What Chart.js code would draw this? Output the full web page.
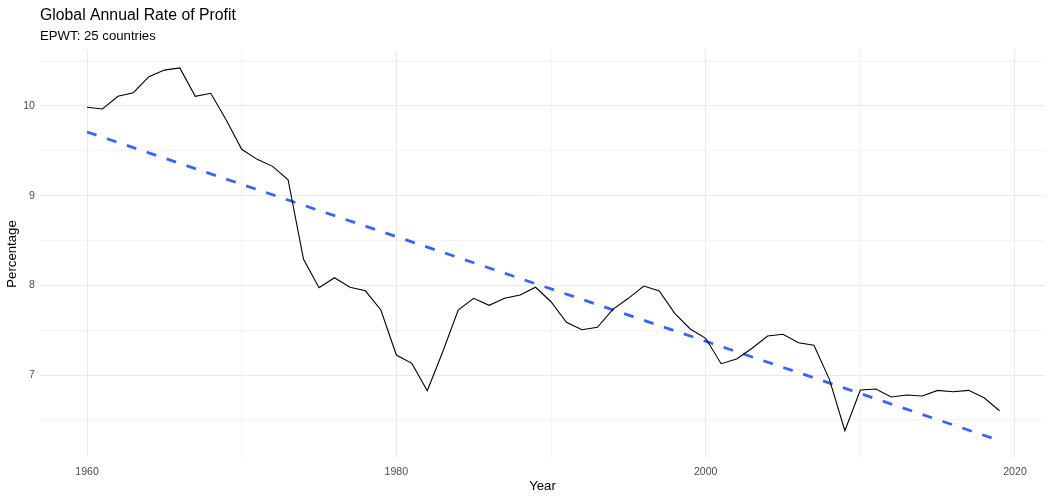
<!DOCTYPE html>
<html>
<head>
<meta charset="utf-8">
<script src="https://cdn.jsdelivr.net/npm/chart.js@4"></script>
<style>
  html, body { margin: 0; padding: 0; background: #ffffff; }
  #wrap { position: relative; width: 1051px; height: 500px; }
</style>
</head>
<body>
<div id="wrap"><canvas id="c" width="1051" height="500"></canvas></div>
<script>
const years = [1960,1961,1962,1963,1964,1965,1966,1967,1968,1969,
               1970,1971,1972,1973,1974,1975,1976,1977,1978,1979,
               1980,1981,1982,1983,1984,1985,1986,1987,1988,1989,
               1990,1991,1992,1993,1994,1995,1996,1997,1998,1999,
               2000,2001,2002,2003,2004,2005,2006,2007,2008,2009,
               2010,2011,2012,2013,2014,2015,2016,2017,2018,2019];
const profitRate = [9.985,9.967,10.108,10.148,10.327,10.400,10.424,10.108,10.141,9.844,
                    9.517,9.405,9.327,9.178,8.290,7.975,8.086,7.979,7.940,7.726,
                    7.224,7.131,6.826,7.261,7.726,7.856,7.778,7.856,7.893,7.979,
                    7.818,7.589,7.506,7.533,7.733,7.856,7.993,7.938,7.689,7.514,
                    7.410,7.127,7.180,7.299,7.436,7.455,7.361,7.332,6.953,6.380,
                    6.834,6.845,6.756,6.778,6.767,6.830,6.815,6.830,6.748,6.603];
const trendYears = [1960, 2019];
const trendValues = [9.71, 6.27];
const xGridValues = [1960,1970,1980,1990,2000,2010,2020];
const xTickLabels = ['1960','1980','2000','2020'];
const yGridValues = [6.5,7,7.5,8,8.5,9,9.5,10,10.5];
const yTickLabels = ['7','8','9','10'];

const FONT = '"Liberation Sans", Arial, Helvetica, sans-serif';

const seriesData = years.map((y, i) => ({x: y, y: profitRate[i]}));
const trendData = trendYears.map((y, i) => ({x: y, y: trendValues[i]}));

new Chart(document.getElementById('c'), {
  type: 'line',
  data: {
    datasets: [
      {
        data: seriesData,
        borderColor: '#000000',
        borderWidth: 1.1,
        pointRadius: 0,
        tension: 0,
        fill: false
      },
      {
        data: trendData,
        borderColor: '#3366FF',
        borderWidth: 2.8,
        borderDash: [10, 11],
        borderCapStyle: 'butt',
        pointRadius: 0,
        tension: 0,
        fill: false
      }
    ]
  },
  options: {
    responsive: false,
    animation: false,
    events: [],
    layout: { padding: { top: 0, right: 6, bottom: 0, left: 0 } },
    plugins: {
      legend: { display: false },
      tooltip: { enabled: false },
      title: {
        display: true,
        text: 'Global Annual Rate of Profit',
        align: 'start',
        fullSize: false,
        color: '#000000',
        font: { family: FONT, size: 15.8, weight: 'normal' },
        padding: { top: 6.5, bottom: 1.5 }
      },
      subtitle: {
        display: true,
        text: 'EPWT: 25 countries',
        align: 'start',
        fullSize: false,
        color: '#000000',
        font: { family: FONT, size: 13.2, weight: 'normal' },
        padding: { top: 1.3, bottom: 5.9 }
      }
    },
    scales: {
      x: {
        type: 'linear',
        min: 1956.96,
        max: 2021.94,
        afterFit: (s) => { s.height = 42; },
        afterBuildTicks: (s) => { s.ticks = xGridValues.map(v => ({value: v})); },
        border: { display: false },
        grid: {
          drawTicks: false,
          color: (ctx) => (ctx.tick && xTickLabels.includes(String(ctx.tick.value))) ? '#EBEBEB' : '#F3F3F3',
          lineWidth: 1
        },
        ticks: {
          autoSkip: false,
          maxRotation: 0,
          padding: 8,
          color: '#4D4D4D',
          font: { family: FONT, size: 10.6 },
          callback: (v) => xTickLabels.includes(String(v)) ? String(v) : ''
        },
        title: {
          display: true,
          text: 'Year',
          color: '#000000',
          font: { family: FONT, size: 13.2 },
          padding: { top: 0, bottom: 6 }
        }
      },
      y: {
        type: 'linear',
        min: 6.076,
        max: 10.624,
        afterFit: (s) => { s.width = 40; },
        afterBuildTicks: (s) => { s.ticks = yGridValues.map(v => ({value: v})); },
        border: { display: false },
        grid: {
          drawTicks: false,
          color: (ctx) => (ctx.tick && yTickLabels.includes(String(ctx.tick.value))) ? '#EBEBEB' : '#F3F3F3',
          lineWidth: 1
        },
        ticks: {
          autoSkip: false,
          padding: 5,
          color: '#4D4D4D',
          font: { family: FONT, size: 10.6 },
          callback: (v) => yTickLabels.includes(String(v)) ? String(v) : ''
        },
        title: {
          display: true,
          text: 'Percentage',
          color: '#000000',
          font: { family: FONT, size: 13.2 },
          padding: { top: 4, bottom: 0 }
        }
      }
    }
  }
});
</script>
</body>
</html>
